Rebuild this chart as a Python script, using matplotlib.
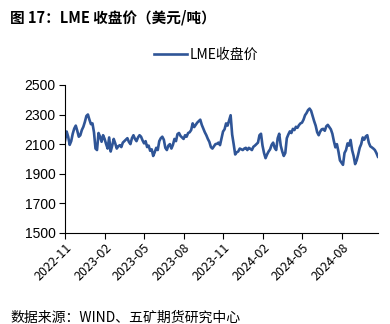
import pandas as pd
import matplotlib
matplotlib.use("Agg")
import matplotlib.pyplot as plt
import matplotlib.dates as mdates

plt.rcParams['font.family'] = ['Noto Sans CJK SC', 'DejaVu Sans']

# LME 收盘价（美元/吨），每 3.5 天一个读数
start = "2022-11-01"
prices = [
    2127, 2185, 2150, 2095, 2120, 2170, 2205, 2225, 2190, 2150,
    2160, 2195, 2217, 2250, 2290, 2300, 2265, 2235, 2240, 2180,
    2070, 2060, 2175, 2150, 2116, 2160, 2135, 2100, 2070, 2145,
    2050, 2090, 2135, 2105, 2070, 2085, 2093, 2080, 2110, 2120,
    2130, 2140, 2115, 2100, 2140, 2160, 2135, 2120, 2145, 2160,
    2150, 2125, 2105, 2120, 2080, 2090, 2055, 2065, 2020, 2045,
    2075, 2060, 2120, 2140, 2150, 2130, 2075, 2060, 2090, 2100,
    2070, 2095, 2135, 2120, 2168, 2175, 2155, 2145, 2135, 2160,
    2150, 2175, 2180, 2195, 2240, 2215, 2230, 2245, 2255, 2265,
    2230, 2205, 2180, 2160, 2135, 2115, 2080, 2070, 2085, 2100,
    2102, 2110, 2093, 2140, 2185, 2200, 2240, 2225, 2260, 2295,
    2165, 2100, 2030, 2045, 2050, 2070, 2065, 2060, 2070, 2075,
    2060, 2075, 2068, 2060, 2082, 2090, 2100, 2110, 2160, 2170,
    2090, 2040, 2005, 2030, 2050, 2065, 2095, 2110, 2075, 2060,
    2140, 2170, 2090, 2050, 2020, 2040, 2140, 2165, 2186, 2175,
    2203, 2195, 2217, 2210, 2228, 2240, 2245, 2265, 2295, 2310,
    2330, 2340, 2325, 2290, 2255, 2225, 2180, 2160, 2185, 2200,
    2203, 2190, 2220, 2230, 2215, 2200, 2170, 2120, 2078, 2100,
    2050, 1990, 1975, 1960, 2040, 2060, 2105, 2090, 2128, 2060,
    2020, 1965, 1990, 2030, 2075, 2100, 2145, 2130, 2152, 2160,
    2110, 2085, 2078, 2070, 2060, 2040, 2015,
]
dates = pd.date_range(start, periods=len(prices), freq="84h")

y_ticks = [1500, 1700, 1900, 2100, 2300, 2500]
x_ticks = pd.date_range("2022-11-01", "2024-08-01", freq="3MS")

fig = plt.figure(figsize=(3.9, 3.24), dpi=100)
ax = fig.add_axes([0.167, 0.281, 0.802, 0.457])

ax.plot(dates, prices, color="#2F5597", linewidth=1.9, label="LME收盘价")

ax.set_ylim(1500, 2500)
ax.set_yticks(y_ticks)
ax.set_xlim(pd.Timestamp("2022-11-01"), dates[-1])
ax.set_xticks(x_ticks)
ax.xaxis.set_major_formatter(mdates.DateFormatter("%Y-%m"))

for s in ["top", "right"]:
    ax.spines[s].set_visible(False)
for s in ["left", "bottom"]:
    ax.spines[s].set_color("black")
    ax.spines[s].set_linewidth(0.8)

ax.tick_params(axis="y", direction="out", length=4, width=0.8, labelsize=10, pad=3)
ax.tick_params(axis="x", direction="out", length=4, width=0.8, labelsize=9, pad=2)
for lbl in ax.get_yticklabels():
    lbl.set_family("Liberation Sans")
for lbl in ax.get_xticklabels():
    lbl.set_rotation(45)
    lbl.set_ha("right")
    lbl.set_rotation_mode("anchor")

ax.legend(loc="center", bbox_to_anchor=(0.45, 1.2), frameon=False,
          fontsize=10, handlelength=2.4, handletextpad=0.2)

fig.text(0.026, 0.945, "图 17：LME 收盘价（美元/吨）", fontsize=10.5,
         fontweight="bold", va="center", ha="left")
fig.text(0.026, 0.02, "数据来源：WIND、五矿期货研究中心", fontsize=10,
         va="center", ha="left")

fig.savefig("out.png", dpi=100)
